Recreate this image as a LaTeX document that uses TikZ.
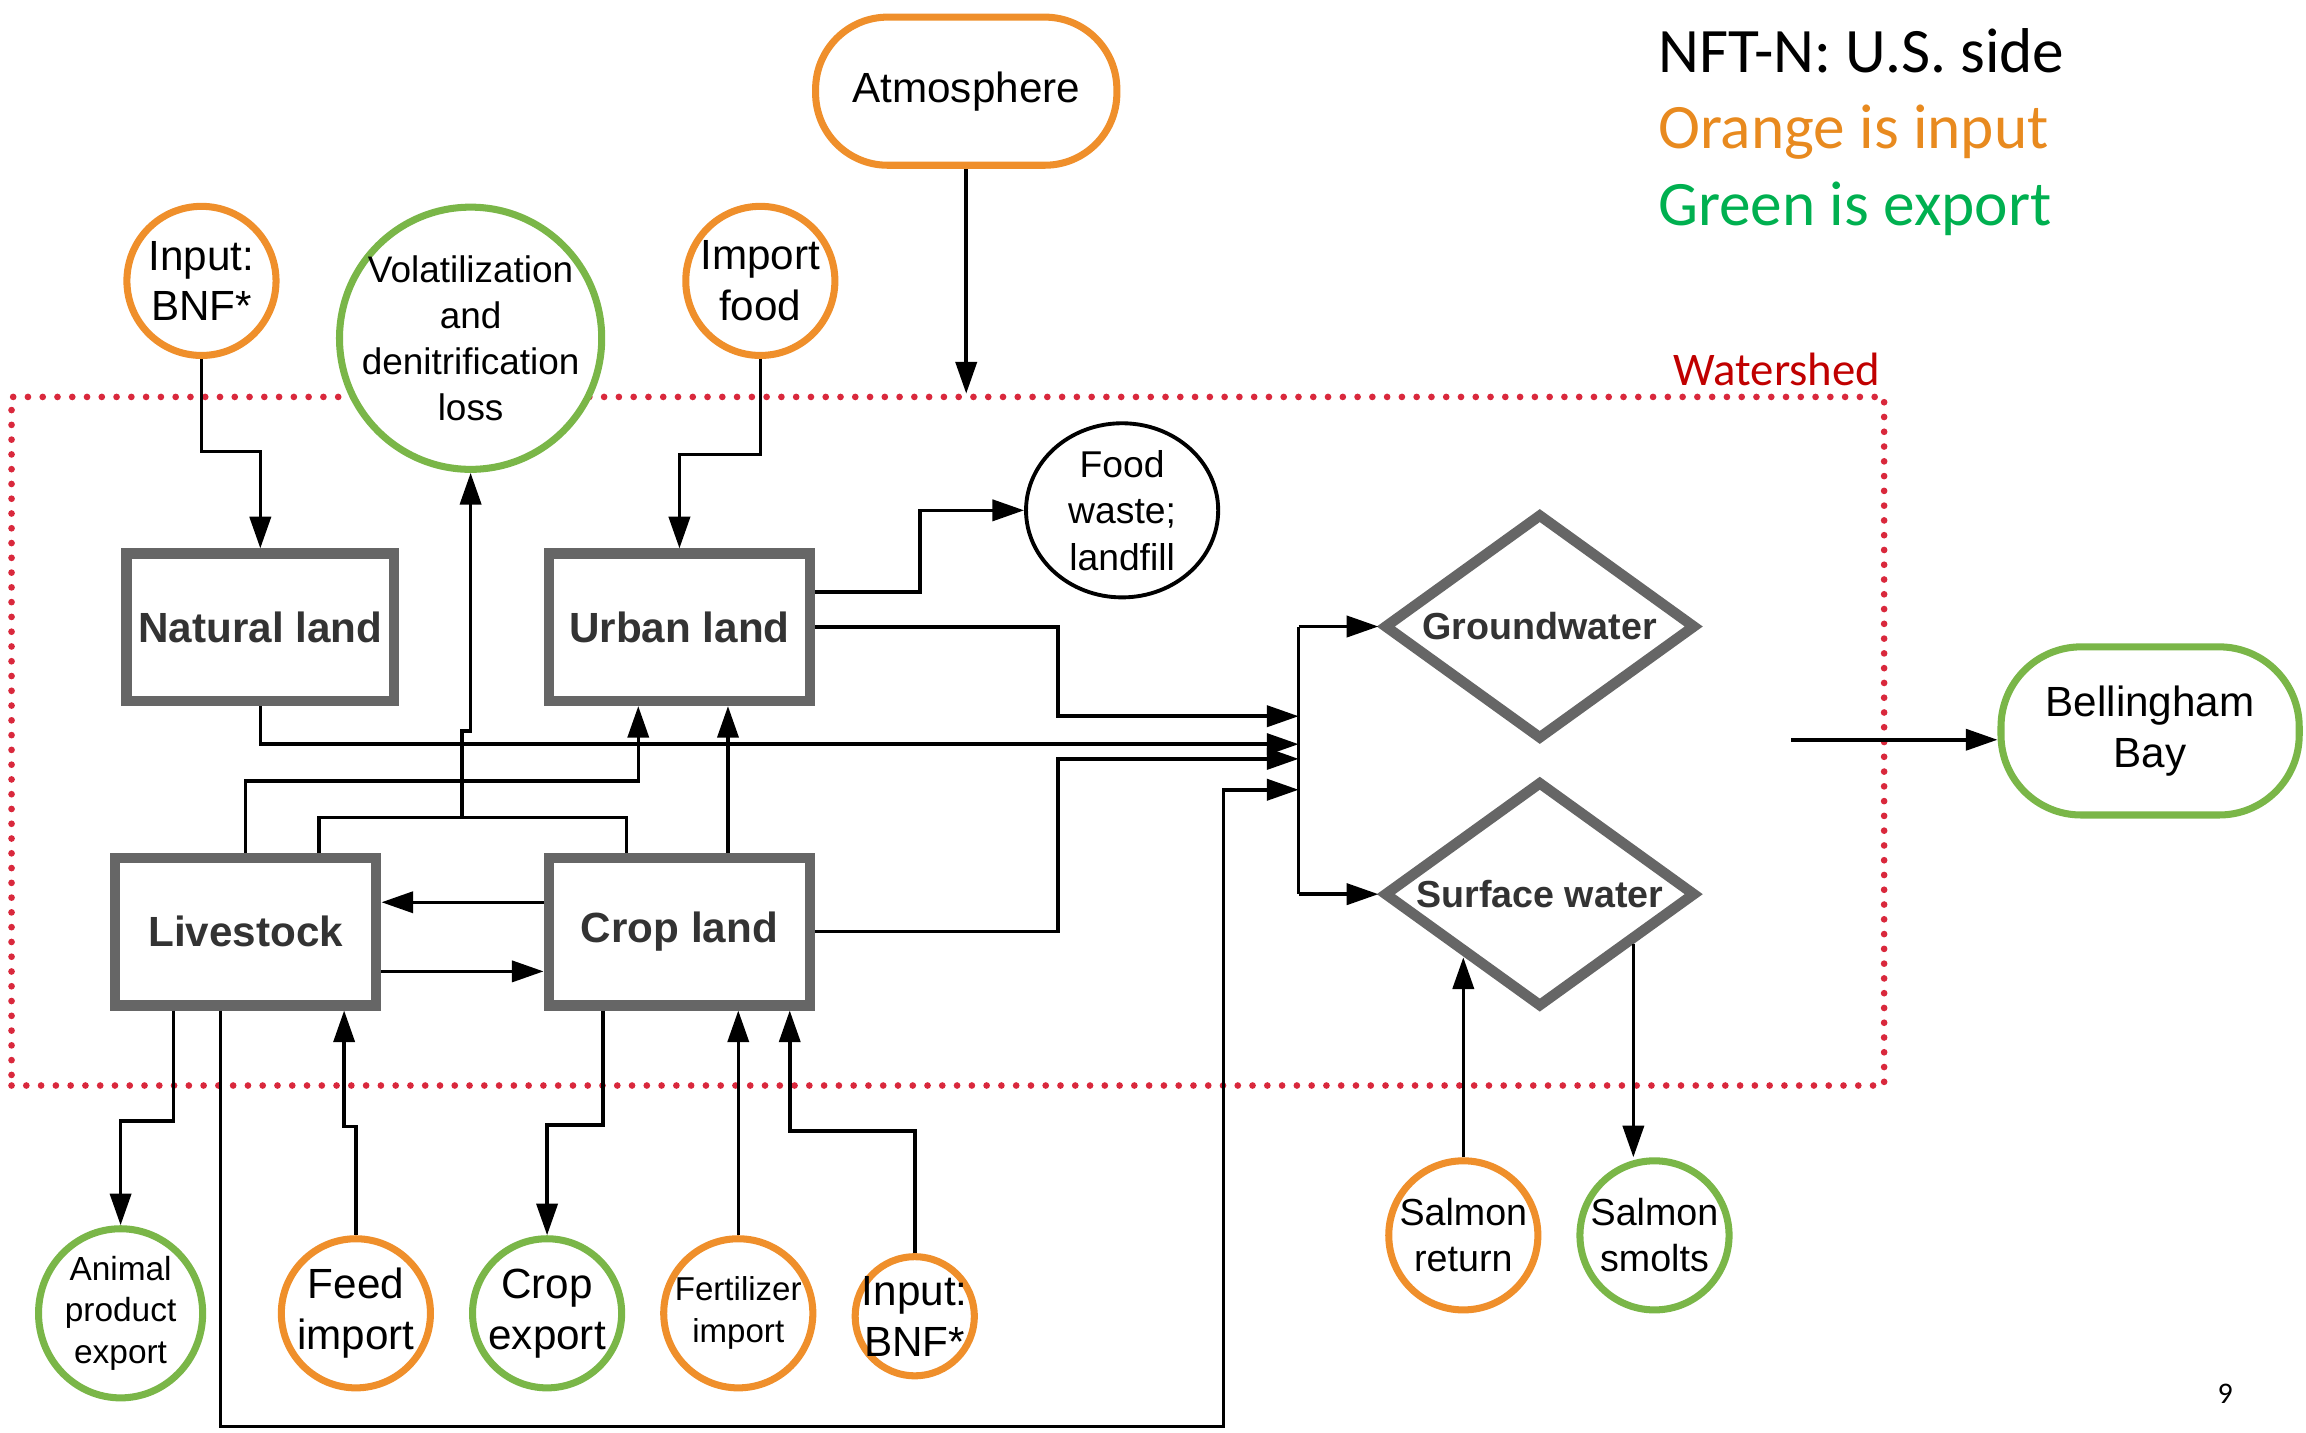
\documentclass[tikz,border=0pt]{standalone}
\usepackage{fontspec}
\setmainfont{Liberation Sans}
\newfontfamily\legendfont{Carlito}
\usetikzlibrary{arrows.meta,shapes.geometric,calc}
\definecolor{ringorange}{HTML}{EF8F2B}
\definecolor{ringgreen}{HTML}{7AB648}
\definecolor{boxgray}{HTML}{666666}
\definecolor{boxtext}{HTML}{333333}
\definecolor{dotred}{HTML}{D9283C}
\definecolor{shedred}{HTML}{C00000}
\definecolor{legorange}{HTML}{E88A1F}
\definecolor{leggreen}{HTML}{00B050}

\begin{document}
\begin{tikzpicture}[
    x=0.0147cm, y=-0.0147cm,
    flow/.style={line width=1pt, -{Triangle[length=9pt,width=6pt]}},
    wire/.style={line width=1pt},
    landbox/.style={rectangle, draw=boxgray, line width=3pt, outer sep=1.5pt, fill=white,
        minimum width=2.61cm, minimum height=1.47cm, text=boxtext,
        font=\fontsize{12}{14}\selectfont\bfseries},
    waterbox/.style={diamond, aspect=1.4, draw=boxgray, line width=3pt, outer sep=1.5pt,
        fill=white, minimum width=3.12cm, minimum height=2.26cm, inner sep=0pt, text=boxtext,
        font=\fontsize{10.7}{13}\selectfont\bfseries},
    ringnode/.style={circle, line width=2pt, outer sep=1pt, fill=white, inner sep=-5pt,
        align=center, minimum size=1.49cm, font=\fontsize{12}{14.4}\selectfont},
    inring/.style={ringnode, draw=ringorange},
    outring/.style={ringnode, draw=ringgreen},
    pill/.style={rectangle, line width=2pt, outer sep=1pt, fill=white, align=center,
        font=\fontsize{12}{14.4}\selectfont},
    shed/.style={draw=dotred, line width=1.9pt, dash pattern=on 0pt off 4.2pt, line cap=round},
    legendtext/.style={anchor=base west, inner sep=0pt, font=\legendfont\fontsize{18}{21}\selectfont}
    ]
    \useasboundingbox (0,0) rectangle (1568,974);

    % watershed
    \node[shed, minimum width=18.71cm, minimum height=6.88cm] (ws) at (644.5,504) {};
    \node[anchor=base east, inner sep=0pt, text=shedred,
        font=\legendfont\fontsize{13.3}{16}\selectfont] (wslabel) at (1279,262) {Watershed};

    % legend
    \node[legendtext] (title) at (1127,49) {NFT-N: U.S. side};
    \node[legendtext, text=legorange] (legin) at (1127,101) {Orange is input};
    \node[legendtext, text=leggreen] (legout) at (1127,153) {Green is export};
    \node[inner sep=0pt, font=\legendfont\fontsize{8.5}{10}\selectfont] (pnum) at (1513,948) {9};

    % sources and sinks
    \node[pill, draw=ringorange, minimum width=3.01cm, minimum height=1.48cm,
        rounded corners=0.72cm] (atm) at (657,62) {Atmosphere};
    \node[inring] (bnfA) at (137,191) {Input:\\BNF*};
    \node[outring, minimum size=2.62cm, font=\fontsize{10.5}{13.1}\selectfont] (vol)
        at (320,230) {Volatilization\\and\\denitrification\\loss};
    \node[inring] (food) at (517,191) {Import\\food};
    \node[ellipse, draw, line width=1.1pt, fill=white, minimum width=1.92cm, minimum height=1.74cm,
        inner sep=-4pt, align=center, font=\fontsize{10.6}{13.2}\selectfont] (fw)
        at (763,347) {Food\\waste;\\landfill};
    \node[pill, draw=ringgreen, minimum width=2.98cm, minimum height=1.68cm,
        rounded corners=0.8cm] (bay) at (1462,497) {Bellingham\\Bay};
    \node[outring, ellipse, minimum width=1.64cm, minimum height=1.69cm,
        font=\fontsize{9.5}{11.7}\selectfont] (anim) at (82,893) {Animal\\product\\export};
    \node[inring] (feed) at (242,893) {Feed\\import};
    \node[outring] (cexp) at (372,893) {Crop\\export};
    \node[inring, font=\fontsize{9.4}{12}\selectfont] (fert) at (502,893) {Fertilizer\\import};
    \node[inring, minimum size=1.19cm] (bnfB) at (622,895) {Input:\\BNF*};
    \node[inring, font=\fontsize{10.7}{13}\selectfont] (sret) at (995,840) {Salmon\\return};
    \node[outring, font=\fontsize{10.7}{13}\selectfont] (smolt) at (1125,840) {Salmon\\smolts};

    % land and water
    \node[landbox] (nat) at (177,426.5) {Natural land};
    \node[landbox] (urb) at (462,426.5) {Urban land};
    \node[landbox] (live) at (167,633.5) {Livestock};
    \node[landbox] (crop) at (462,633.5) {Crop land};
    \node[waterbox] (gw) at (1047,426) {Groundwater};
    \node[waterbox] (sw) at (1047,608) {Surface water};

    % inputs from above
    \draw[flow] (atm.south) -- (atm.south |- ws.north);
    \draw[flow] (bnfA.south) -- ++(0,63) -| (nat.north);
    \draw[flow] (food.south) -- ++(0,65) -| (urb.north);
    \draw[flow] ($(urb.east)+(0,-24)$) -- ++(71,0) |- (fw.west);

    % flows to the water
    \coordinate (in1) at (883,487);
    \coordinate (in2) at (883,506);
    \coordinate (in3) at (883,516);
    \coordinate (in4) at (883,537);
    \draw[flow] (urb.east) -- ++(165,0) |- (in1);
    \draw[flow] (nat.south) |- (in2);
    \draw[flow] (crop.east) -- ++(165,0) |- (in3);
    \draw[flow] ($(live.south)+(-17,0)$) -- ++(0,283) -| ($(in4)+(-51,0)$) -- (in4);
    \draw[wire] (gw.west -| in1) -- (sw.west -| in1);
    \draw[flow] (gw.west -| in1) -- (gw.west);
    \draw[flow] (sw.west -| in1) -- (sw.west);

    % between the lands
    \draw[flow] (live.north) -- ++(0,-49) -| ($(urb.south)+(-28,0)$);
    \draw[flow] ($(crop.north)+(33,0)$) -- ($(urb.south)+(33,0)$);
    \draw[flow] ($(crop.west)+(0,-20)$) -- ($(live.east)+(0,-20)$);
    \draw[flow] ($(live.east)+(0,27)$) -- ($(crop.west)+(0,27)$);
    \coordinate (volj) at (314,556);
    \draw[wire] ($(live.north)+(50,0)$) |- (volj) -| ($(crop.north)+(-36,0)$);
    \draw[flow] (volj) -- ++(0,-59) -| (vol.south);

    % inputs and exports below
    \draw[flow] ($(live.south)+(-49,0)$) -- ++(0,75) -| (anim.north);
    \draw[flow] (feed.north) -- ++(0,-74) -| ($(live.south)+(67,0)$);
    \draw[flow] ($(crop.south)+(-52,0)$) -- ++(0,78) -| (cexp.north);
    \draw[flow] (fert.north) -- (fert.north |- crop.south);
    \draw[flow] (bnfB.north) -- ++(0,-83) -| ($(crop.south)+(75,0)$);
    \draw[flow] (sret.north) -- (sret.north |- sw.-140);
    \draw[flow] (sw.-28) -- (sw.-28 |- smolt.north);

    % out to the bay
    \coordinate (out) at (1218,503);
    \draw[flow] (out) -- (out -| bay.west);
\end{tikzpicture}
\end{document}
